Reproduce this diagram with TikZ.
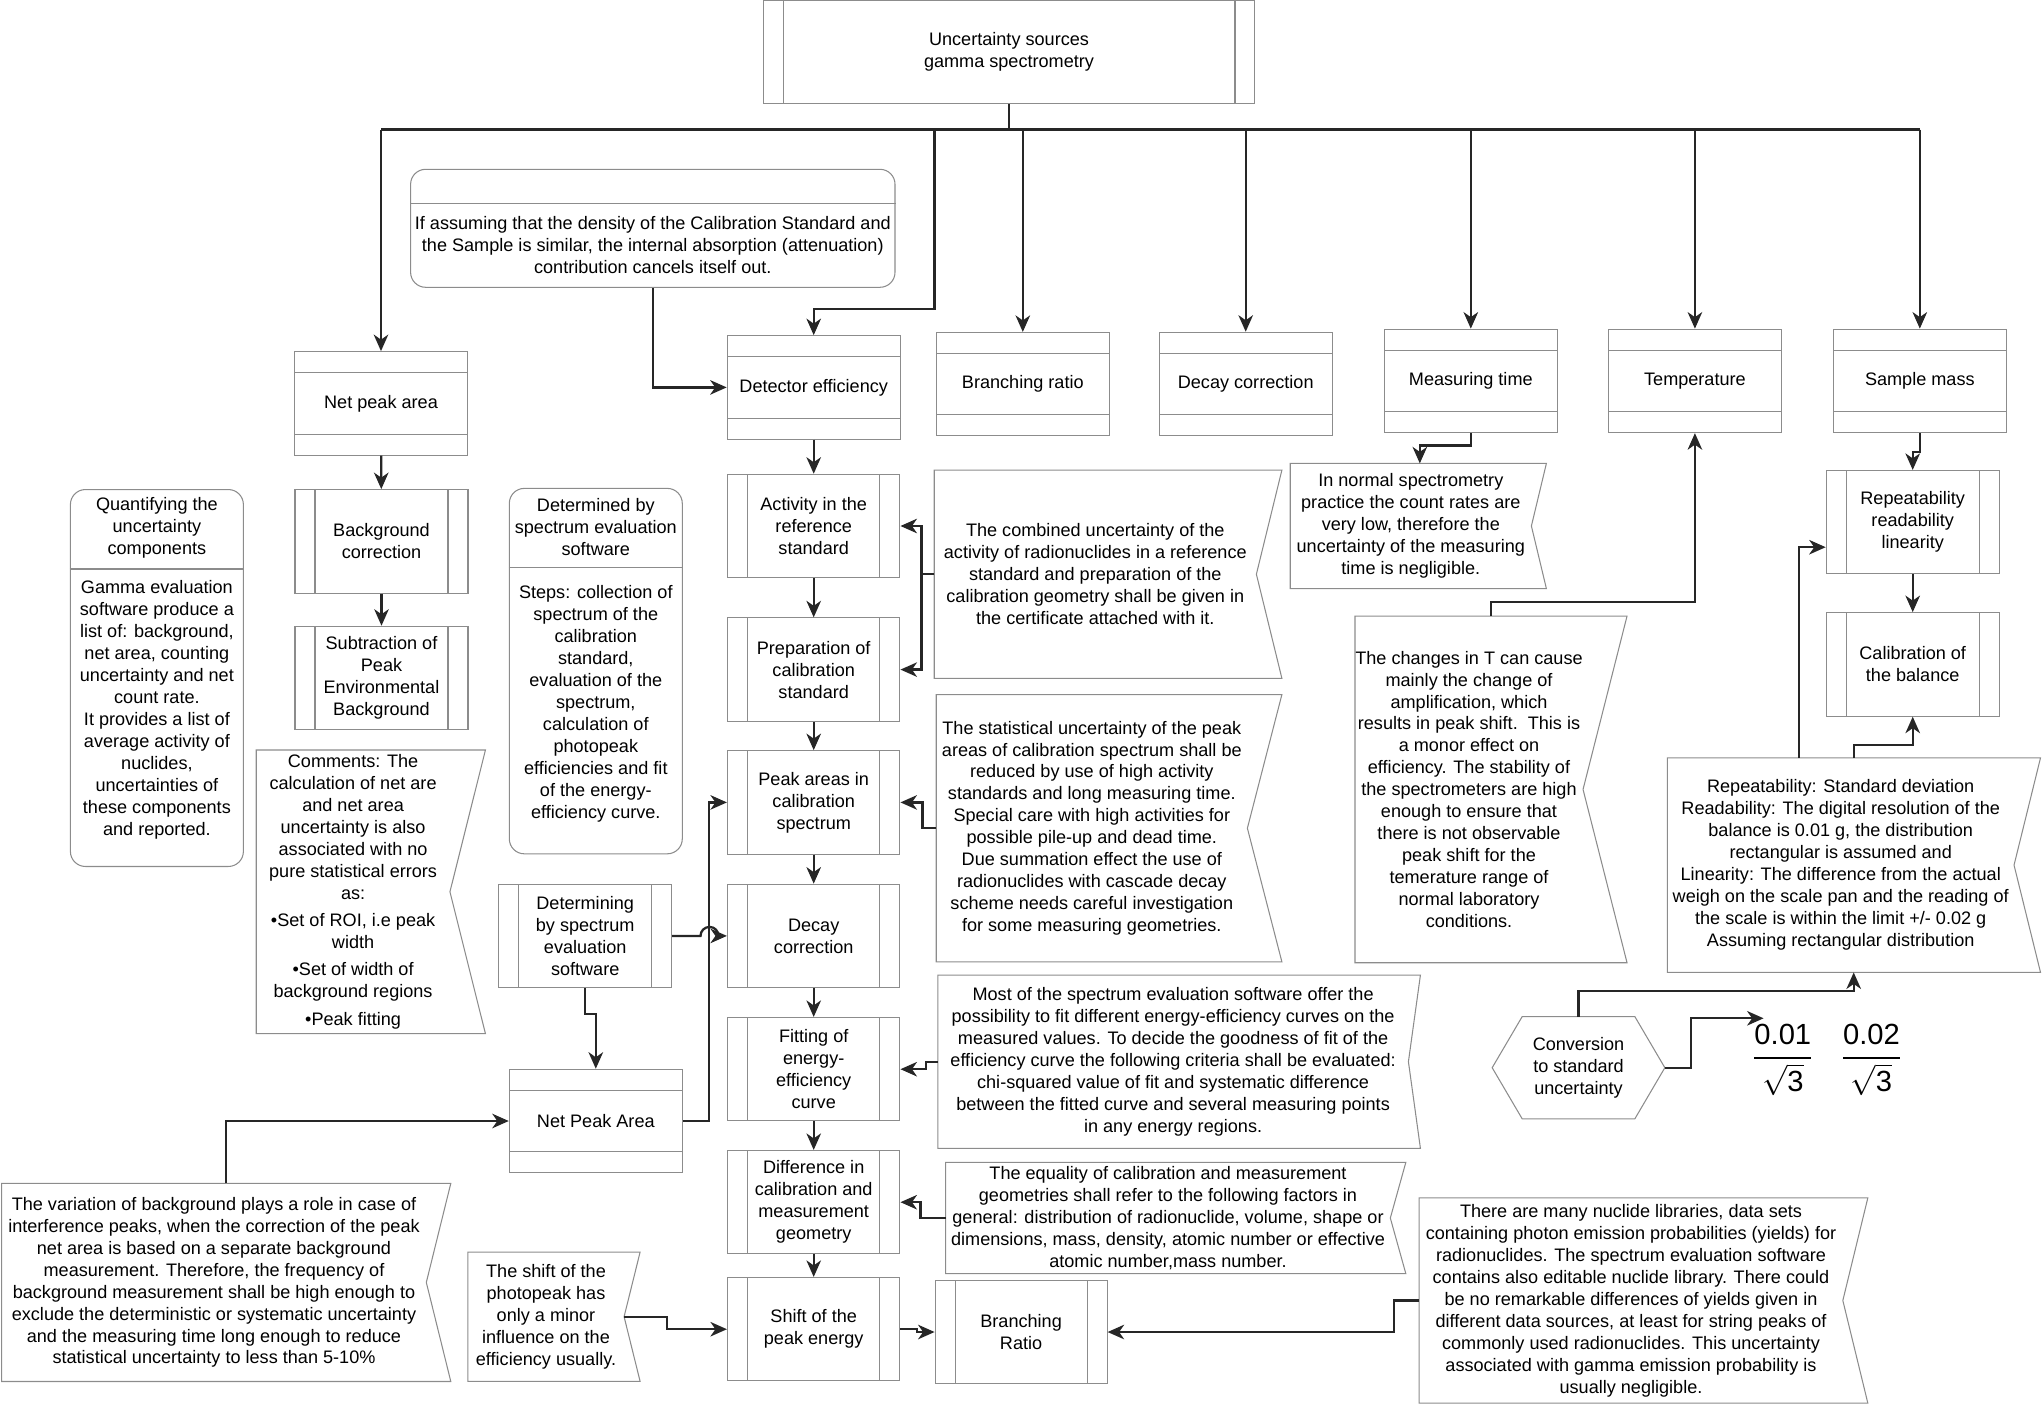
\documentclass[tikz,border=0pt]{standalone}
\usepackage{fontspec}
\usepackage{amsmath}
\setmainfont{Liberation Sans}
\usetikzlibrary{arrows.meta}

\definecolor{edgegray}{HTML}{8C8C8C}
\definecolor{linkgray}{HTML}{262626}
\newcommand{\boxfont}{\fontsize{10.3}{12.5}\selectfont}

\tikzset{
  boxline/.style={draw=edgegray, line width=0.6pt},
  box/.style={boxline, fill=white, align=center, inner sep=1pt,
    minimum width=3.46cm, minimum height=2.07cm},
  procbox/.style={box, path picture={
      \draw[boxline] ([xshift=0.4cm]path picture bounding box.north west) -- ([xshift=0.4cm]path picture bounding box.south west)
        ([xshift=-0.4cm]path picture bounding box.north east) -- ([xshift=-0.4cm]path picture bounding box.south east);}},
  bandbox/.style={box, path picture={
      \draw[boxline] ([yshift=-0.42cm]path picture bounding box.north west) -- ([yshift=-0.42cm]path picture bounding box.north east)
        ([yshift=0.42cm]path picture bounding box.south west) -- ([yshift=0.42cm]path picture bounding box.south east);}},
  roundbox/.style={boxline, rounded corners=0.3cm},
  note/.style={inner sep=0pt, align=center},
  link/.style={draw=linkgray, line width=1.3pt},
  arr/.style={link, -{Stealth[length=0.33cm, width=0.29cm, inset=0.1cm]}},
}

\begin{document}
\begin{tikzpicture}[x=0.02cm, y=-0.02cm, font=\boxfont]
  \useasboundingbox (0,0) rectangle (2044,1406);

  % top of the tree
  \node[procbox, minimum width=9.84cm] (title) at (1009,52) {Uncertainty sources\\gamma spectrometry};
  \node[roundbox, minimum width=9.69cm, minimum height=2.36cm] (ifbox) at (652.8,228.3) {};
  \draw[boxline] ([yshift=-0.7cm]ifbox.north west) -- ([yshift=-0.7cm]ifbox.north east);
  \node[note] (iftext) at (652.8,245) {If assuming that the density of the Calibration Standard and\\the Sample is similar, the internal absorption (attenuation)\\contribution cancels itself out.};

  \foreach \n/\x/\y/\lab in {npa/381/403.4/Net peak area, det/813.7/387.4/Detector efficiency,
      br/1022.8/384.2/Branching ratio, dec/1245.7/384/Decay correction,
      mt/1470.8/380.9/Measuring time, temp/1694.9/380.9/Temperature, sm/1919.8/380.9/Sample mass}
    \node[bandbox] (\n) at (\x,\y) {\lab};

  % net peak area branch
  \node[procbox] (bgc) at (381.5,541.4) {Background\\correction};
  \node[procbox] (sub) at (381.5,678) {Subtraction of\\Peak\\Environmental\\Background};

  \node[roundbox, minimum width=3.46cm, minimum height=7.54cm] (quant) at (156.9,678) {};
  \draw[boxline] ([yshift=-1.6cm]quant.north west) -- ([yshift=-1.6cm]quant.north east);
  \node[note] (quanthead) at (156.9,528) {Quantifying the\\uncertainty\\components};
  \node[note] (quantbody) at (156.9,710) {Gamma evaluation\\software produce a\\list of: background,\\net area, counting\\uncertainty and net\\count rate.\\It provides a list of\\average activity of\\nuclides,\\uncertainties of\\these components\\and reported.};

  \node[roundbox, minimum width=3.46cm, minimum height=7.31cm] (determ) at (595.8,671.1) {};
  \draw[boxline] ([yshift=-1.6cm]determ.north west) -- ([yshift=-1.6cm]determ.north east);
  \node[note] (determhead) at (595.8,526.6) {Determined by\\spectrum evaluation\\software};
  \node[note] (determbody) at (595.8,703.7) {Steps: collection of\\spectrum of the\\calibration\\standard,\\evaluation of the\\spectrum,\\calculation of\\photopeak\\efficiencies and fit\\of the energy-\\efficiency curve.};

  \node[note, minimum width=3.86cm, minimum height=5.66cm] (comm) at (353.1,891.8) {Comments: The\\calculation of net are\\and net area\\uncertainty is also\\associated with no\\pure statistical errors\\as:\\[3pt]\textbullet Set of ROI, i.e peak\\width\\[3pt]\textbullet Set of width of\\background regions\\[3pt]\textbullet Peak fitting};

  \node[procbox] (detsw) at (585.2,935.9) {Determining\\by spectrum\\evaluation\\software};
  \node[bandbox] (npa2) at (595.8,1121) {Net Peak Area};

  \node[note, minimum width=8.48cm, minimum height=3.95cm] (var) at (214,1282.4) {The variation of background plays a role in case of\\interference peaks, when the correction of the peak\\net area is based on a separate background\\measurement. Therefore, the frequency of\\background measurement shall be high enough to\\exclude the deterministic or systematic uncertainty\\and the measuring time long enough to reduce\\statistical uncertainty to less than 5-10\%};
  \node[note, minimum width=3.11cm, minimum height=2.57cm] (photo) at (546,1316.7) {The shift of the\\photopeak has\\only a minor\\influence on the\\efficiency usually.};

  % detector efficiency column
  \foreach \n/\y/\lab in {act/526/Activity in the\\reference\\standard, prep/669.6/Preparation of\\calibration\\standard,
      peak/802.4/Peak areas in\\calibration\\spectrum, decc/935.9/Decay\\correction,
      fit/1069.2/Fitting of\\energy-\\efficiency\\curve, diff/1202.2/Difference in\\calibration and\\measurement\\geometry,
      shift/1329.2/Shift of the\\peak energy}
    \node[procbox, minimum width=3.45cm] (\n) at (813.7,\y) {\lab};
  \node[procbox, minimum width=3.44cm] (brr) at (1021.1,1332) {Branching\\Ratio};

  \node[note, minimum width=6.43cm, minimum height=4.15cm] (comb) at (1095.3,574.2) {The combined uncertainty of the\\activity of radionuclides in a reference\\standard and preparation of the\\calibration geometry shall be given in\\the certificate attached with it.};
  \node[note, minimum width=6.21cm, minimum height=5.33cm] (stat) at (1091.8,828.2) {The statistical uncertainty of the peak\\areas of calibration spectrum shall be\\reduced by use of high activity\\standards and long measuring time.\\Special care with high activities for\\possible pile-up and dead time.\\Due summation effect the use of\\radionuclides with cascade decay\\scheme needs careful investigation\\for some measuring geometries.};
  \node[note, minimum width=9.4cm, minimum height=3.45cm] (most) at (1173.1,1061.7) {Most of the spectrum evaluation software offer the\\possibility to fit different energy-efficiency curves on the\\measured values. To decide the goodness of fit of the\\efficiency curve the following criteria shall be evaluated:\\chi-squared value of fit and systematic difference\\between the fitted curve and several measuring points\\in any energy regions.};
  \node[note, minimum width=8.88cm, minimum height=2.21cm] (eq) at (1168,1218) {The equality of calibration and measurement\\geometries shall refer to the following factors in\\general: distribution of radionuclide, volume, shape or\\dimensions, mass, density, atomic number or effective\\atomic number,mass number.};
  \node[note, minimum width=8.46cm, minimum height=4.09cm] (many) at (1631,1300.5) {There are many nuclide libraries, data sets\\containing photon emission probabilities (yields) for\\radionuclides. The spectrum evaluation software\\contains also editable nuclide library. There could\\be no remarkable differences of yields given in\\different data sources, at least for string peaks of\\commonly used radionuclides. This uncertainty\\associated with gamma emission probability is\\usually negligible.};

  % time, temperature, mass
  \node[note, minimum width=4.81cm, minimum height=2.49cm] (normal) at (1410.8,526) {In normal spectrometry\\practice the count rates are\\very low, therefore the\\uncertainty of the measuring\\time is negligible.};
  \node[note, minimum width=4.51cm, minimum height=6.92cm] (chg) at (1469,789.4) {The changes in T can cause\\mainly the change of\\amplification, which\\results in peak shift.\ \ This is\\a monor effect on\\efficiency. The stability of\\the spectrometers are high\\enough to ensure that\\there is not observable\\peak shift for the\\temerature range of\\normal laboratory\\conditions.};
  \node[procbox] (rep) at (1912.7,522.2) {Repeatability\\readability\\linearity};
  \node[procbox] (cal) at (1912.7,664.4) {Calibration of\\the balance};
  \node[note, minimum width=6.92cm, minimum height=4.28cm] (repnote) at (1840.7,865.1) {Repeatability: Standard deviation\\Readability: The digital resolution of the\\balance is 0.01 g, the distribution\\rectangular is assumed and\\Linearity: The difference from the actual\\weigh on the scale pan and the reading of\\the scale is within the limit +/- 0.02 g\\Assuming rectangular distribution};
  \node[note, minimum width=3.44cm, minimum height=2.03cm] (conv) at (1578.5,1067.7) {Conversion\\to standard\\uncertainty};
  \node (fraca) at (1782.8,1060) {\fontsize{16.6}{20}\selectfont$\genfrac{}{}{1pt}{0}{\mbox{0.01}}{\sqrt{\mbox{3}}}$};
  \node (fracb) at (1871.4,1060) {\fontsize{16.6}{20}\selectfont$\genfrac{}{}{1pt}{0}{\mbox{0.02}}{\sqrt{\mbox{3}}}$};

  % note outlines, notched on the right
  \foreach \n/\d in {comm/0.71, comb/0.51, stat/0.69, most/0.24, eq/0.31, many/0.5,
      photo/0.32, var/0.49, normal/0.3, chg/0.88, repnote/0.53}
    \draw[boxline] (\n.north west) -- ([xshift=\d cm]\n.north east) -- (\n.east)
      -- ([xshift=\d cm]\n.south east) -- (\n.south west) -- cycle;
  \draw[boxline] (conv.west) -- ([xshift=0.6cm]conv.north west) -- ([xshift=-0.6cm]conv.north east)
    -- (conv.east) -- ([xshift=-0.6cm]conv.south east) -- ([xshift=0.6cm]conv.south west) -- cycle;

  % connectors
  \coordinate (tl) at (381,129.5);
  \coordinate (tr) at (1919.8,129.5);
  \coordinate (detdrop) at (934.4,129.5);
  \coordinate (fracin) at (1763.6,1018.3);
  \draw[link] (title.south) -- (title.south|-tl);
  \draw[link, line width=1.7pt] (tl) -- (tr);
  \foreach \n in {npa, br, dec, mt, temp, sm}
    \draw[arr] (\n.north|-tl) -- (\n.north);
  \draw[arr] (detdrop) -- ++(0,179.5) -| (det.north);
  \draw[arr] (ifbox.south) |- (det.west);

  \draw[arr] (npa) -- (bgc);
  \draw[arr] (bgc) -- (sub);
  \draw[arr] (det) -- (act);
  \foreach \a/\b in {act/prep, prep/peak, peak/decc, decc/fit, fit/diff, diff/shift}
    \draw[arr] (\a) -- (\b);

  \draw[arr] (comb.west) -- ++(-12.8,0) |- (act.east);
  \draw[arr] (comb.west) -- ++(-12.8,0) |- (prep.east);
  \draw[arr] (stat.west) -- ++(-13.7,0) |- (peak.east);
  \draw[arr] (most.west) -- ++(-11.5,0) |- (fit.east);
  \draw[arr] (eq.west) -- ++(-25.3,0) |- (diff.east);
  \draw[arr] (photo.east) -- ++(42.7,0) |- (shift.west);
  \draw[arr] (shift.east) -- ++(16.5,0) |- (brr.west);
  \draw[arr] (many.west) -- ++(-25.5,0) |- (brr.east);

  \draw[arr] ([xshift=0.24cm]var.north) |- (npa2.west);
  \draw[arr] (detsw.south) -- ++(0,25.6) -| (npa2.north);
  \draw[arr] (npa2.east) -- ++(26.4,0) |- (peak.west);
  \draw[arr] (detsw.east) -- ++(28.3,0) arc[start angle=180, end angle=0, radius=0.18cm] -- (decc.west);

  \draw[arr] (mt.south) -- ++(0,12.3) -| ([xshift=0.18cm]normal.north);
  \draw[arr] ([xshift=0.44cm]chg.north) -- ++(0,-14.4) -| (temp.south);
  \draw[arr] (sm.south) -- ++(0,19) -| (rep.north);
  \draw[arr] (rep) -- (cal);
  \draw[arr] ([xshift=-0.83cm]repnote.north) |- ([yshift=-0.5cm]rep.west);
  \draw[arr] ([xshift=0.26cm]repnote.north) -- ++(0,-13) -| (cal.south);
  \draw[arr] (conv.north) -- ++(0,-25.6) -| ([xshift=0.26cm]repnote.south);
  \draw[arr] (conv.east) -- ++(25.8,0) |- (fracin);
\end{tikzpicture}
\end{document}
